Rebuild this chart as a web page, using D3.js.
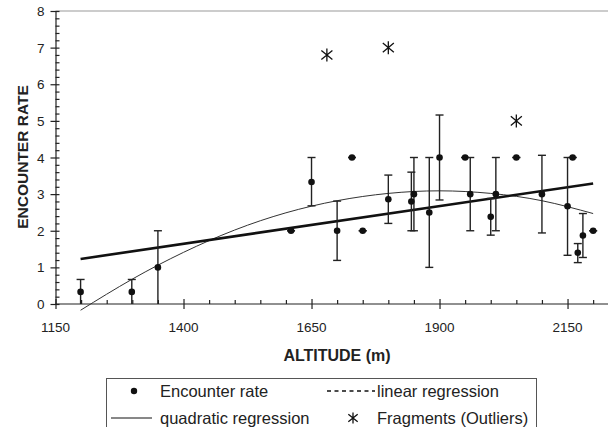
<!DOCTYPE html>
<html>
<head>
<meta charset="utf-8">
<script src="https://cdn.jsdelivr.net/npm/d3@7"></script>
<style>
body{margin:0;background:#fff;}
svg{display:block;font-family:'Liberation Sans',Arial,sans-serif;}
</style>
</head>
<body>
<script>
// encounter rate per altitude, with error bar ends (hi/lo)
var altitude=[1199,1299,1350,1610,1650,1700,1729,1750,1800,1845,1850,1880,1900,1950,1960,2000,2010,2050,2100,2150,2160,2170,2180,2200];
var rate    =[0.33,0.33,1.0, 2.0, 3.33,2.0, 4.0, 2.0, 2.86,2.8, 3.0, 2.5, 4.0, 4.0, 3.0, 2.38,3.0, 4.0, 3.0, 2.67,4.0, 1.4, 1.87,2.0];
var errHi   =[0.67,0.67,2.0, 2.0, 4.0, 2.81,4.0, 2.0, 3.52,3.6, 4.0, 4.0, 5.16,4.0, 4.0, 2.88,4.0, 4.0, 4.06,4.0, 4.0, 1.65,2.47,2.0];
var errLo   =[0,   0,   0,   2.0, 2.68,1.19,4.0, 2.0, 2.2, 2.0, 2.0, 1.0, 2.84,4.0, 2.0, 1.88,2.0, 4.0, 1.94,1.33,4.0, 1.13,1.27,2.0];
// fragments (outliers)
var outAlt=[1680,1800,2050];
var outRate=[6.8,7.0,5.0];
// regression lines
var linAlt=[1199,2200];
var linRate=[1.23,3.29];
var quadAlt=[1199,1300,1400,1500,1600,1700,1800,1900,2000,2100,2200];
var quadRate=[-0.17,0.68,1.41,2.02,2.49,2.82,3.02,3.09,3.02,2.82,2.47];
var xMajor=[1150,1400,1650,1900,2150];
var yMajor=[0,1,2,3,4,5,6,7,8];

var W=608,H=427;
var svg=d3.select('body').append('svg').attr('width',W).attr('height',H);

var x=d3.scaleLinear().domain([1150,2230]).range([55.5,608.5]);
var y=d3.scaleLinear().domain([0,8]).range([304,11]);
var ink='#222';

// top frame line
svg.append('line')
    .attr('x1',x(1150)).attr('x2',W).attr('y1',y(8)).attr('y2',y(8))
    .attr('stroke','#999').attr('stroke-width',1.2);

// x axis
var xMinor=d3.range(1150,2230,50);
var gx=svg.append('g').attr('transform','translate(0,'+y(0)+')');
gx.call(d3.axisBottom(x).tickValues(xMinor).tickSizeInner(-4).tickSizeOuter(0).tickFormat(''));
gx.selectAll('.tick').filter(function(d){return xMajor.indexOf(d)>=0;}).select('line').attr('y1',-5).attr('y2',5);
gx.select('.domain').attr('d','M'+x(1150)+',0H'+W);
gx.selectAll('path,line').attr('stroke',ink).attr('stroke-width',1.2);
gx.selectAll('.lab').data(xMajor).enter().append('text')
    .attr('x',function(d){return x(d);}).attr('y',27.5)
    .attr('text-anchor','middle').attr('font-size','13.5px').attr('fill',ink)
    .text(function(d){return d;});

// y axis
var yMinor=d3.range(0,8.01,0.2).map(function(v){return Math.round(v*10)/10;});
var gy=svg.append('g').attr('transform','translate('+x(1150)+',0)');
gy.call(d3.axisLeft(y).tickValues(yMinor).tickSizeInner(-4).tickSizeOuter(0).tickFormat(''));
gy.selectAll('.tick').filter(function(d){return yMajor.indexOf(d)>=0;}).select('line').attr('x1',-5).attr('x2',4);
gy.selectAll('path,line').attr('stroke',ink).attr('stroke-width',1.2);
gy.selectAll('.lab').data(yMajor).enter().append('text')
    .attr('x',-11).attr('y',function(d){return y(d)+5;})
    .attr('text-anchor','end').attr('font-size','13.5px').attr('fill',ink)
    .text(function(d){return d;});

// axis titles
svg.append('text').attr('x',337).attr('y',361)
    .attr('text-anchor','middle').attr('font-size','16px').attr('font-weight','bold').attr('fill',ink)
    .text('ALTITUDE (m)');
svg.append('text').attr('transform','translate(28,157) rotate(-90)')
    .attr('text-anchor','middle').attr('font-size','15.5px').attr('font-weight','bold').attr('fill',ink)
    .text('ENCOUNTER RATE');

// regression lines
var line=d3.line().x(function(d){return x(d[0]);}).y(function(d){return y(d[1]);});
svg.append('path').datum(d3.zip(quadAlt,quadRate))
    .attr('d',line.curve(d3.curveNatural)).attr('fill','none').attr('stroke','#333').attr('stroke-width',1);
svg.append('path').datum(d3.zip(linAlt,linRate))
    .attr('d',line.curve(d3.curveLinear)).attr('fill','none').attr('stroke','#111').attr('stroke-width',2.6);

// error bars + points
var pts=altitude.map(function(a,i){return {a:a,r:rate[i],hi:errHi[i],lo:errLo[i]};});
var eb=svg.append('g').attr('stroke',ink).attr('stroke-width',1.4);
pts.forEach(function(d){
    var cx=x(d.a);
    eb.append('line').attr('x1',cx).attr('x2',cx).attr('y1',y(d.hi)).attr('y2',y(d.lo));
    if(d.hi>0)eb.append('line').attr('x1',cx-4).attr('x2',cx+4).attr('y1',y(d.hi)).attr('y2',y(d.hi));
    if(d.lo>0)eb.append('line').attr('x1',cx-4).attr('x2',cx+4).attr('y1',y(d.lo)).attr('y2',y(d.lo));
});
svg.selectAll('.pt').data(pts).enter().append('circle')
    .attr('cx',function(d){return x(d.a);}).attr('cy',function(d){return y(d.r);})
    .attr('r',3.3).attr('fill','#111');

// asterisk marker
function star(g,cx,cy,s){
    g.append('path')
        .attr('d','M'+cx+','+(cy-s)+'V'+(cy+s)+'M'+(cx-s*0.85)+','+(cy-s*0.7)+'L'+(cx+s*0.85)+','+(cy+s*0.7)+'M'+(cx-s*0.85)+','+(cy+s*0.7)+'L'+(cx+s*0.85)+','+(cy-s*0.7))
        .attr('stroke','#111').attr('stroke-width',1.3).attr('fill','none');
}
outAlt.forEach(function(a,i){star(svg,x(a),y(outRate[i]),6.5);});

// legend
var lg=svg.append('g');
lg.append('rect').attr('x',106.5).attr('y',378.5).attr('width',430).attr('height',60)
    .attr('fill','none').attr('stroke','#555').attr('stroke-width',1);
lg.append('circle').attr('cx',134).attr('cy',391).attr('r',3.2).attr('fill','#111');
lg.append('line').attr('x1',327).attr('x2',375).attr('y1',391).attr('y2',391)
    .attr('stroke','#111').attr('stroke-width',1.4).attr('stroke-dasharray','4,3.5');
lg.append('line').attr('x1',111).attr('x2',152).attr('y1',418).attr('y2',418)
    .attr('stroke','#111').attr('stroke-width',1);
star(lg,353,418,5.5);
var legText=[['Encounter rate',160,391],['linear regression',377,391],['quadratic regression',160,418],['Fragments (Outliers)',377,418]];
lg.selectAll('text').data(legText).enter().append('text')
    .attr('x',function(d){return d[1];}).attr('y',function(d){return d[2]+5.5;})
    .attr('font-size','16.5px').attr('fill',ink)
    .text(function(d){return d[0];});
</script>
</body>
</html>
